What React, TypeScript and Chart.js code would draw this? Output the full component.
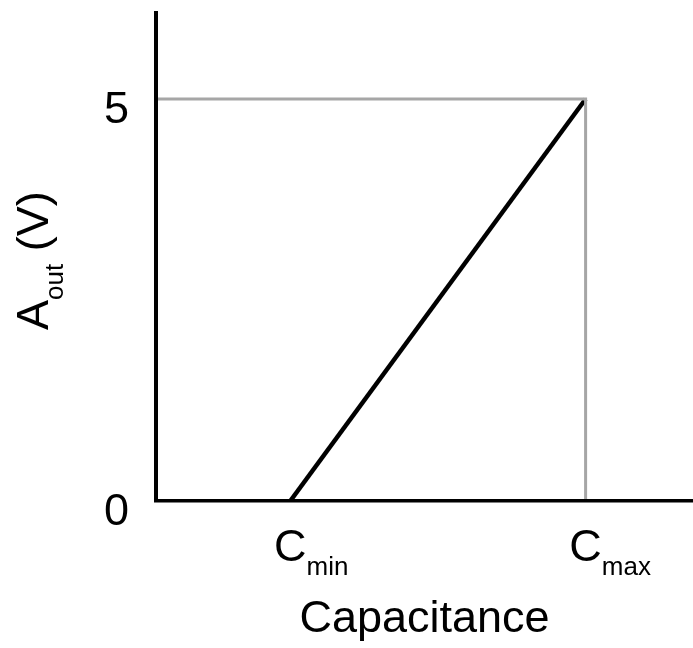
import React, { useEffect, useRef } from 'react';
import { Chart, registerables } from 'chart.js';

Chart.register(...registerables);

// ---- data ----
const xTickValues = [2.5, 8];
const xTickMain = ['C', 'C'];
const xTickSub = ['min', 'max'];
const yTickValues = [0, 5];
const yTickLabels = ['0', '5'];
const responseX = [2.5, 8];
const responseY = [0, 5];
const guideX = [0, 8, 8];
const guideY = [5, 5, 0];
const xRange = [0, 10];
const yRange = [0, 6.07];
const xTitle = 'Capacitance';
const yTitleMain = 'A';
const yTitleSub = 'out';
const yTitleRest = ' (V)';

const FONT = "'Liberation Sans', Arial, Helvetica, sans-serif";
const BIG = 45;
const SMALL = 26;
const X_TICK_PAD = 21;

const subscriptPlugin = {
  id: 'subscripts',
  afterDraw(chart: any) {
    const ctx = chart.ctx as CanvasRenderingContext2D;
    const xs = chart.scales.x;
    const lineH = BIG * 1.2;
    const yMid = xs.top + X_TICK_PAD + lineH / 2;
    ctx.save();
    ctx.fillStyle = '#000';
    ctx.font = `${BIG}px ${FONT}`;
    ctx.textBaseline = 'middle';
    const m = ctx.measureText('C');
    const baseline = yMid + m.actualBoundingBoxDescent;
    xTickValues.forEach((v, i) => {
      const px = xs.getPixelForValue(v);
      ctx.font = `${BIG}px ${FONT}`;
      const w = ctx.measureText(xTickMain[i]).width;
      ctx.font = `${SMALL}px ${FONT}`;
      ctx.textBaseline = 'alphabetic';
      ctx.textAlign = 'left';
      ctx.fillText(xTickSub[i], px + w / 2, baseline + 14);
    });

    // rotated y-axis title with subscript
    ctx.translate(48, 330);
    ctx.rotate(-Math.PI / 2);
    ctx.textBaseline = 'alphabetic';
    ctx.textAlign = 'left';
    ctx.font = `${BIG}px ${FONT}`;
    ctx.fillText(yTitleMain, 0, 0);
    const wA = ctx.measureText(yTitleMain).width;
    ctx.font = `${SMALL}px ${FONT}`;
    ctx.fillText(yTitleSub, wA, 15);
    const wSub = ctx.measureText(yTitleSub).width;
    ctx.font = `${BIG}px ${FONT}`;
    ctx.fillText(yTitleRest, wA + wSub, 0);
    ctx.restore();
  },
};

export default function App() {
  const canvasRef = useRef<HTMLCanvasElement | null>(null);

  useEffect(() => {
    document.body.style.margin = '0';
    document.body.style.overflow = 'hidden';
    const canvas = canvasRef.current;
    if (!canvas) return;
    const chart = new Chart(canvas, {
      type: 'line',
      data: {
        datasets: [
          {
            label: 'Guide',
            data: guideX.map((x, i) => ({ x, y: guideY[i] })),
            borderColor: '#a6a6a6',
            borderWidth: 3,
            pointRadius: 0,
            fill: false,
            tension: 0,
          },
          {
            label: 'Aout',
            data: responseX.map((x, i) => ({ x, y: responseY[i] })),
            borderColor: '#000000',
            borderWidth: 4.5,
            pointRadius: 0,
            fill: false,
            tension: 0,
          },
        ],
      },
      options: {
        animation: false,
        responsive: true,
        maintainAspectRatio: false,
        layout: { padding: { top: 13, right: 0, left: 0, bottom: 0 } },
        plugins: {
          legend: { display: false },
          tooltip: { enabled: false },
        },
        scales: {
          x: {
            type: 'linear',
            min: xRange[0],
            max: xRange[1],
            afterBuildTicks: (s: any) => {
              s.ticks = xTickValues.map((v) => ({ value: v }));
            },
            afterFit: (s: any) => {
              s.height = 147;
              s.paddingLeft = 0;
              s.paddingRight = 0;
              s.paddingTop = 0;
              s.paddingBottom = 0;
            },
            grid: { display: false, drawTicks: false },
            border: { display: true, color: '#000', width: 3.5, z: 1 },
            ticks: {
              color: '#000',
              font: { family: FONT, size: BIG },
              padding: X_TICK_PAD,
              maxRotation: 0,
              autoSkip: false,
              callback: (_v: any, i: number) => xTickMain[i],
            },
            title: {
              display: true,
              text: xTitle,
              color: '#000',
              font: { family: FONT, size: BIG },
              padding: { top: 0, bottom: 1 },
            },
          },
          y: {
            type: 'linear',
            min: yRange[0],
            max: yRange[1],
            afterBuildTicks: (s: any) => {
              s.ticks = yTickValues.map((v) => ({ value: v }));
            },
            afterFit: (s: any) => {
              s.width = 156;
              s.paddingLeft = 0;
              s.paddingRight = 0;
              s.paddingTop = 0;
              s.paddingBottom = 0;
            },
            grid: { display: false, drawTicks: false },
            border: { display: true, color: '#000', width: 4, z: 1 },
            ticks: {
              color: '#000',
              font: { family: FONT, size: BIG },
              padding: 27,
              labelOffset: 12,
              autoSkip: false,
              callback: (_v: any, i: number) => yTickLabels[i],
            },
          },
        },
      } as any,
      plugins: [subscriptPlugin],
    });
    return () => chart.destroy();
  }, []);

  return (
    <div style={{ position: 'absolute', left: 0, top: 0, width: 693, height: 648, background: '#fff' }}>
      <canvas ref={canvasRef} style={{ display: 'block' }} />
    </div>
  );
}
